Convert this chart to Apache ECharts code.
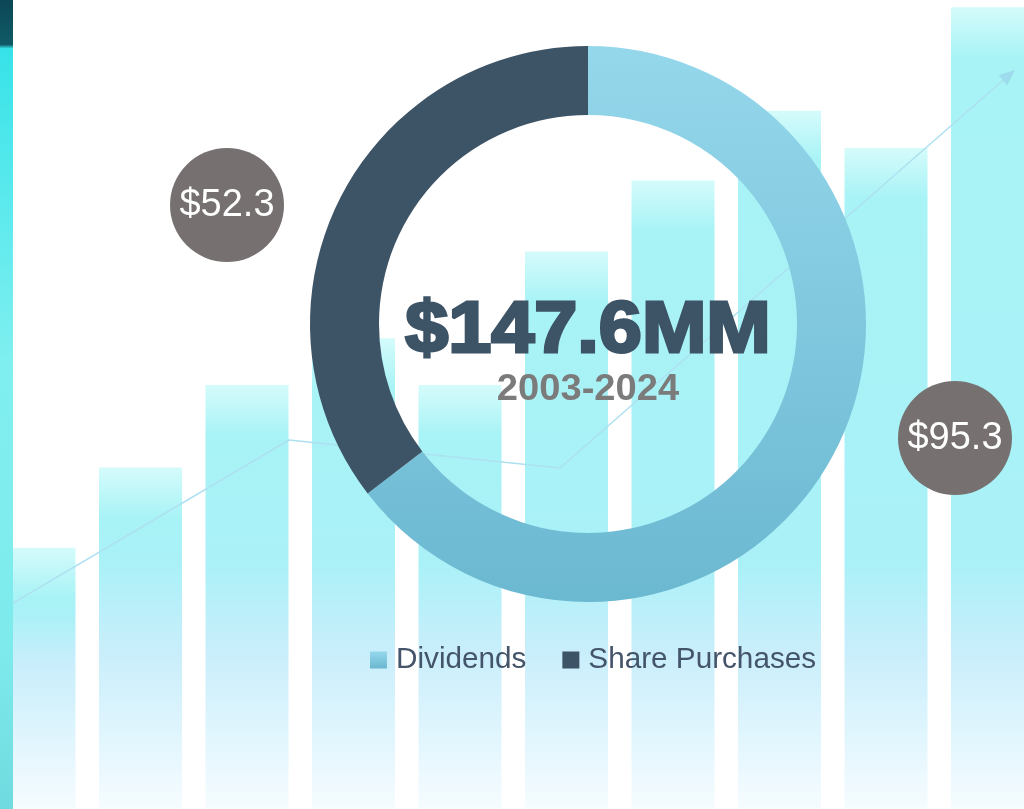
<!DOCTYPE html>
<html>
<head>
<meta charset="utf-8">
<script src="https://cdn.jsdelivr.net/npm/echarts@6/dist/echarts.min.js"></script>
<style>
html,body{margin:0;padding:0;background:#ffffff;}
#chart{width:1024px;height:809px;}
</style>
</head>
<body>
<div id="chart"></div>
<script>
// ---- data ----
const categories = ['Dividends', 'Share Purchases'];
const values = [95.3, 52.3];
const periodLabel = '2003-2024';
// decorative background bars (relative heights, 0-100)
const bgBarIndex = [0, 1, 2, 3, 4, 5, 6, 7, 8, 9];
const bgBars = [32.3, 42.2, 52.4, 58.2, 52.4, 68.9, 77.7, 86.3, 81.7, 99.1];
// decorative trend line (0-100 both axes)
const trendX = [0, 28.22, 54.69, 98.54];
const trendY = [24.5, 45.61, 42.15, 90.73];

const total = values.reduce((a, b) => a + b, 0);
const totalLabel = '$' + total.toFixed(1) + 'MM';

const H = 809;
function barGradient(v) {
  const top = H * (1 - v / 100);
  const h = H - top;
  const off = y => Math.min(1, Math.max(0, (y - top) / h));
  const s1 = off(top + 50);
  const s2 = Math.max(s1, off(Math.max(top + 65, 560)));
  const s3 = Math.max(s2, off(Math.max(top + 115, 650)));
  return new echarts.graphic.LinearGradient(0, 0, 0, 1, [
    { offset: 0, color: '#d5fbfb' },
    { offset: s1, color: '#a8f3f6' },
    { offset: s2, color: '#a9f1f7' },
    { offset: s3, color: '#c8eefb' },
    { offset: 1, color: '#f6fcff' }
  ]);
}

const chart = echarts.init(document.getElementById('chart'), null, { renderer: 'canvas' });

const trendData = trendX.map((x, i) => {
  if (i === trendX.length - 1) {
    return { value: [x, trendY[i]], symbol: 'triangle', symbolSize: [13, 16], symbolRotate: -48.8,
             itemStyle: { color: '#9ddcec' } };
  }
  return { value: [x, trendY[i]], symbol: 'none' };
});

const bubbleFill = '#767170';
function bubble(cx, cy, text) {
  return {
    type: 'group', x: cx, y: cy,
    children: [
      { type: 'circle', z: 100, silent: true, shape: { cx: 0, cy: 0, r: 57 }, style: { fill: bubbleFill } },
      { type: 'text', z: 101, silent: true, style: { x: 0, y: 1, text: text, align: 'center', verticalAlign: 'middle',
        fontFamily: 'Liberation Sans', fontSize: 38, fill: '#ffffff' } }
    ]
  };
}

const option = {
  backgroundColor: '#ffffff',
  animation: false,
  grid: [
    { left: 0, right: 0, top: 0, bottom: 0 },
    { left: 0, right: 0, top: 0, bottom: 0 }
  ],
  xAxis: [
    { type: 'value', gridIndex: 0, min: -0.3192, max: 9.2958, show: false },
    { type: 'value', gridIndex: 1, min: 0, max: 100, show: false }
  ],
  yAxis: [
    { type: 'value', gridIndex: 0, min: 0, max: 100, show: false },
    { type: 'value', gridIndex: 1, min: 0, max: 100, show: false }
  ],
  legend: {
    data: categories,
    left: 365,
    top: 640,
    icon: 'rect',
    itemWidth: 17,
    itemHeight: 17,
    itemGap: 36,
    textStyle: { fontFamily: 'Liberation Sans', fontSize: 29.7, color: '#44546a', padding: [0, 0, 0, 4] }
  },
  series: [
    {
      type: 'bar',
      xAxisIndex: 0, yAxisIndex: 0,
      barWidth: 83,
      silent: true,
      z: 1,
      data: bgBars.map((v, i) => ({ value: [bgBarIndex[i], v], itemStyle: { color: barGradient(v) } }))
    },
    {
      type: 'line',
      xAxisIndex: 1, yAxisIndex: 1,
      silent: true,
      z: 2,
      symbol: 'none',
      showSymbol: true,
      lineStyle: { color: '#ade0f0', width: 1.5 },
      data: trendData
    },
    {
      type: 'pie',
      z: 5,
      center: [588, 324],
      radius: [209, 278],
      startAngle: 90,
      clockwise: true,
      label: { show: false },
      labelLine: { show: false },
      silent: true,
      data: [
        { name: categories[0], value: values[0],
          itemStyle: { color: new echarts.graphic.LinearGradient(0, 0, 0, 1, [
            { offset: 0, color: '#95d7eb' }, { offset: 1, color: '#6bb8d1' }]) } },
        { name: categories[1], value: values[1], itemStyle: { color: '#3d5366' } }
      ]
    }
  ],
  graphic: [
    {
      type: 'rect', z: 100, silent: true,
      shape: { x: 0, y: 0, width: 13, height: 809 },
      style: {
        fill: new echarts.graphic.LinearGradient(0, 0, 0, 1, [
          { offset: 0, color: '#0c4756' },
          { offset: 0.055, color: '#0f5a66' },
          { offset: 0.06, color: '#36e2e8' },
          { offset: 0.2, color: '#52e8ec' },
          { offset: 0.45, color: '#80eff0' },
          { offset: 0.8, color: '#7eeaec' },
          { offset: 1, color: '#6fdbe0' }
        ])
      }
    },
    {
      type: 'text', z: 100, silent: true,
      x: 588, y: 296, scaleX: 1.075,
      style: {
        x: 0, y: 0, align: 'center', verticalAlign: 'top',
        text: totalLabel,
        fontFamily: 'Liberation Sans', fontWeight: 'bold', fontSize: 72,
        fill: '#3d5366', stroke: '#3d5366', lineWidth: 3
      }
    },
    {
      type: 'text', z: 100, silent: true,
      x: 588, y: 371, scaleX: 1.03,
      style: {
        x: 0, y: 0, align: 'center', verticalAlign: 'top',
        text: periodLabel,
        fontFamily: 'Liberation Sans', fontWeight: 'bold', fontSize: 37,
        fill: '#7b7b7b'
      }
    },
    bubble(227, 205, '$' + values[1].toFixed(1)),
    bubble(955, 438, '$' + values[0].toFixed(1))
  ]
};
chart.setOption(option);
</script>
</body>
</html>
